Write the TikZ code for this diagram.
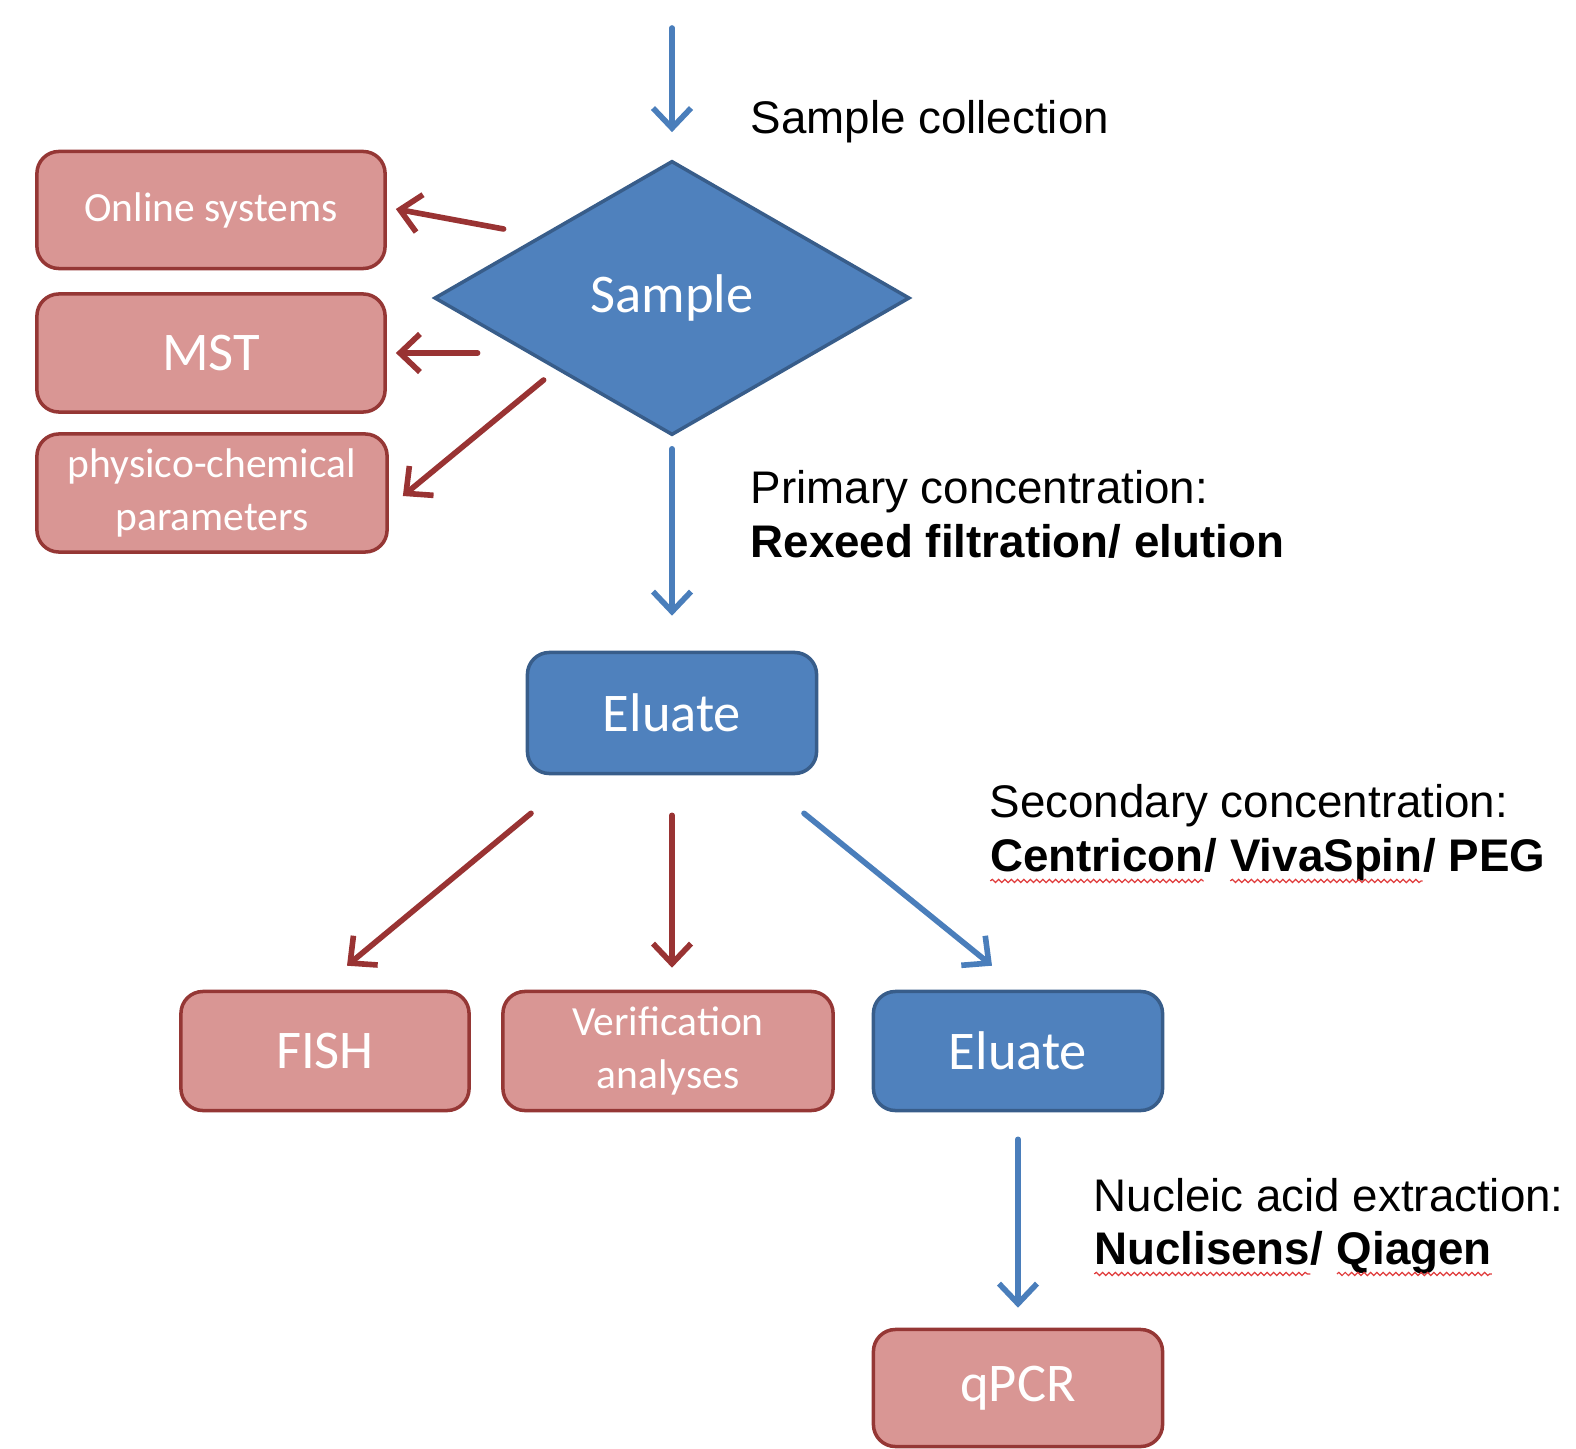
\documentclass[tikz,border=0pt]{standalone}
\usepackage{fontspec}
\setmainfont{Liberation Sans}
\newfontfamily\boxfont{Carlito}
\usetikzlibrary{shapes.geometric,arrows.meta,calc,decorations.pathmorphing}
\definecolor{flowblue}{HTML}{4F81BD}
\definecolor{flowblueline}{HTML}{385D8A}
\definecolor{flowred}{HTML}{D99694}
\definecolor{flowredline}{HTML}{953735}
\definecolor{arrowblue}{HTML}{4A7EBB}
\definecolor{arrowred}{HTML}{993333}
\definecolor{spellred}{HTML}{E03C3C}
\newcommand\spellmark[1]{\tikz[baseline=(w.base)]{\node[inner sep=0pt,outer sep=0pt] (w) {#1};
	\draw[spellred,line width=0.35pt,decorate,decoration={snake,amplitude=0.45pt,segment length=1.8pt}] ([yshift=-2.6pt]w.base west) -- ([yshift=-2.6pt]w.base east);}}
\begin{document}
\begin{tikzpicture}[x=0.01cm,y=-0.01cm,line cap=round]
	\useasboundingbox (0,0) rectangle (1576,1449);
	\tikzstyle{b-node}=[fill=flowblue,draw=flowblueline,line width=1pt,rounded corners=2.2mm,text=white,font=\boxfont\fontsize{15.5}{18}\selectfont,align=center]
	\tikzstyle{r-node}=[fill=flowred,draw=flowredline,line width=1pt,rounded corners=2.2mm,text=white,font=\boxfont\fontsize{15.5}{18}\selectfont,align=center]
	\tikzstyle{s-node}=[r-node,font=\boxfont\fontsize{11.8}{14.9}\selectfont]
	\tikzstyle{annot}=[inner sep=0pt,anchor=west,align=left,font=\fontsize{13}{15.3}\selectfont]
	\tikzstyle{blue-arr}=[draw=arrowblue,line width=1.6pt,-{Straight Barb[length=2mm,width=3.8mm]}]
	\tikzstyle{red-arr}=[blue-arr,draw=arrowred]
	% labels
	\node[annot] (col) at (750,122) {Sample collection};
	\node[annot] (pri) at (750,514) {Primary concentration:\\\textbf{Rexeed filtration/ elution}};
	\node[annot] (sec) at (989,834) {Secondary concentration:\\\textbf{\spellmark{Centricon}/ \spellmark{VivaSpin}/ PEG}};
	\node[annot] (nuc) at (1093,1227) {Nucleic acid extraction:\\\textbf{\spellmark{Nuclisens}/ \spellmark{Qiagen}}};

	% sample
	\node[b-node,shape=diamond,rounded corners=0pt,inner sep=0pt,aspect=1.73,minimum width=4.75cm,minimum height=2.74cm] (smp) at (672,298) {\raisebox{-3pt}{Sample}};

	% side measurements
	\node[s-node,minimum width=3.48cm,minimum height=1.17cm] (onl) at (211,210) {Online systems};
	\node[r-node,minimum width=3.48cm,minimum height=1.18cm] (mst) at (211,353) {MST};
	\node[s-node,minimum width=3.50cm,minimum height=1.18cm] (phy) at (212,493) {physico-chemical\\parameters};

	% eluates
	\node[b-node,minimum width=2.89cm,minimum height=1.21cm] (elu1) at (672,713) {Eluate};
	\node[r-node,minimum width=2.88cm,minimum height=1.19cm] (fish) at (325,1051) {FISH};
	\node[s-node,minimum width=3.30cm,minimum height=1.19cm] (ver) at (668,1051) {Verification\\analyses};
	\node[b-node,minimum width=2.89cm,minimum height=1.19cm] (elu2) at (1018,1051) {Eluate};
	\node[r-node,minimum width=2.89cm,minimum height=1.17cm] (qpcr) at (1018,1388) {qPCR};

	\coordinate (src) at (672,28);
	\draw[blue-arr,shorten >=0.27cm] (src) -- (smp.north);
	\draw[red-arr] ($(smp.west)+(71,-69)$) -- ($(onl.east)+(9,-1)$);
	\draw[red-arr] ($(smp.west)+(45,55)$) -- ($(mst.east)+(9,0)$);
	\draw[red-arr] ($(smp.west)+(111,82)$) -- ($(phy.east)+(14,3)$);
	\draw[blue-arr,shorten <=0.12cm,shorten >=0.35cm] (smp.south) -- (elu1.north);
	%
	\draw[red-arr] ($(elu1.south)+(-141,38)$) -- ($(fish.north)+(22,-24)$);
	\draw[red-arr,shorten <=0.4cm,shorten >=0.22cm] (elu1.south) -- (elu1.south |- ver.north);
	\draw[blue-arr] ($(elu1.south)+(132,38)$) -- ($(elu2.north)+(-26,-24)$);
	\draw[blue-arr,shorten <=0.27cm,shorten >=0.2cm] (elu2.south) -- (qpcr.north);
\end{tikzpicture}
\end{document}
